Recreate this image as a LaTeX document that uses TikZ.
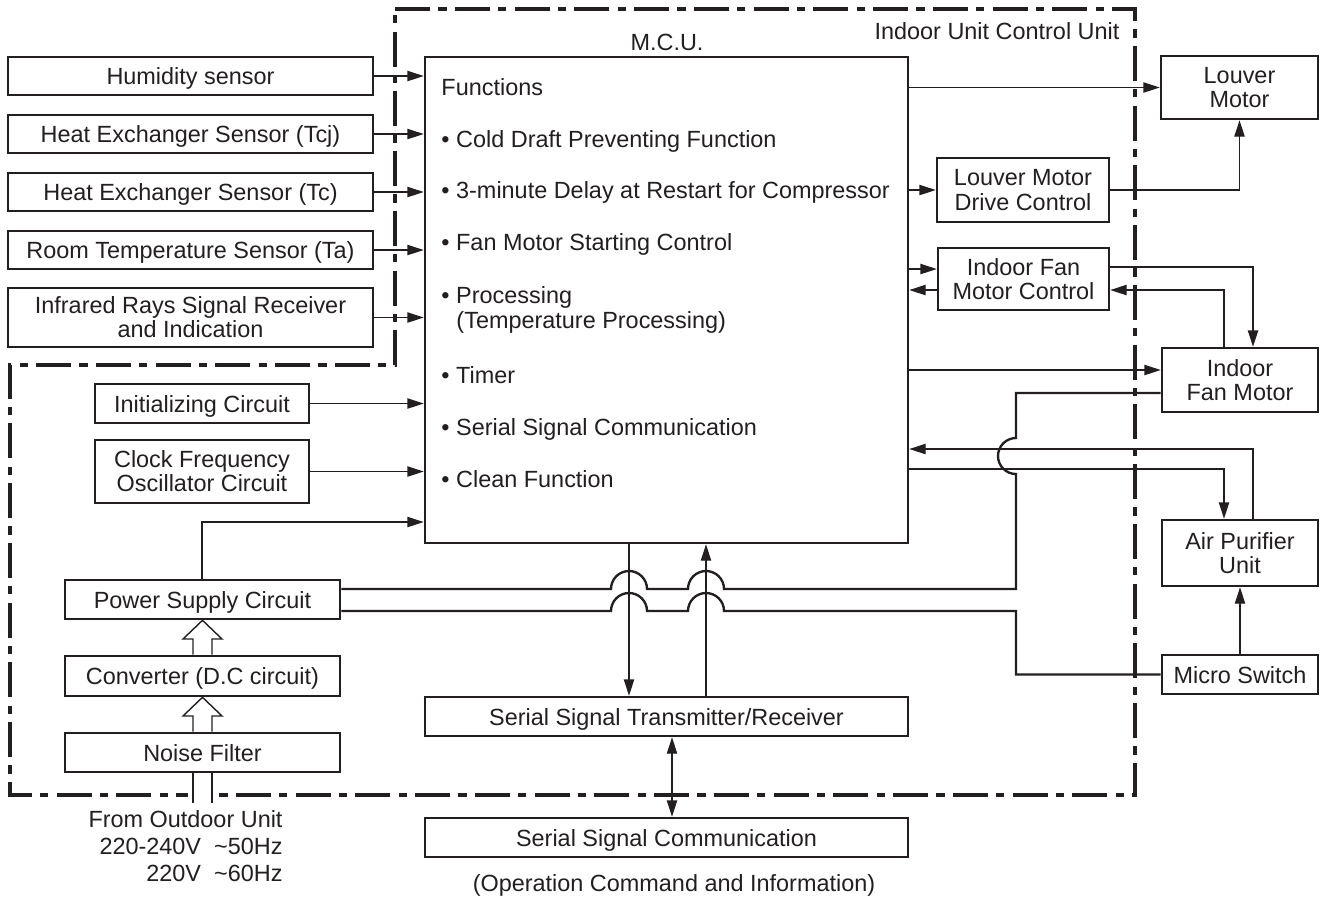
\documentclass[tikz,border=0pt]{standalone}
\usepackage{fontspec}
\setmainfont{Liberation Sans}
\usetikzlibrary{arrows.meta}
\definecolor{ink}{RGB}{35,31,32}
\begin{document}
\begin{tikzpicture}[x=0.015cm,y=-0.015cm,
  box/.style={draw=ink, line width=1.1pt, inner sep=0pt, align=center, text=ink, font=\fontsize{10pt}{10.3pt}\selectfont},
  one/.style={text height=7.4pt, text depth=0pt},
  sz/.style 2 args={minimum width=#1*0.015cm, minimum height=#2*0.015cm},
  arr/.style={draw=ink, line width=0.6pt, -{Triangle[length=7pt,width=4.4pt]}},
  arrb/.style={draw=ink, line width=0.6pt, {Triangle[length=7pt,width=4.4pt]}-{Triangle[length=7pt,width=4.4pt]}},
  pwr/.style={draw=ink, line width=1pt},
  bord/.style={draw=ink, line width=1.4pt, dash pattern=on 15pt off 3.5pt on 3.5pt off 3.5pt},
  lbl/.style={text=ink, inner sep=0pt, font=\fontsize{10pt}{11.5pt}\selectfont},
  hollow/.style={draw=ink, line width=0.6pt, fill=white}]
\useasboundingbox (0,0) rectangle (1325,897);
\fill[white] (0,0) rectangle (1325,897);

% boundary of indoor unit control unit
\draw[bord] (395,9) -- (1135,9) -- (1135,795) -- (10,795) -- (10,365) -- (395,365) -- cycle;
\fill[white] (188,789) rectangle (217,801);

% left input boxes
\node[box, one, sz={365}{38}] (hum) at (190.5,76) {Humidity sensor};
\node[box, one, sz={365}{38}] (tcj) at (190.5,134) {Heat Exchanger Sensor (Tcj)};
\node[box, one, sz={365}{38}] (tc)  at (190.5,192) {Heat Exchanger Sensor (Tc)};
\node[box, one, sz={365}{38}] (ta)  at (190.5,250) {Room Temperature Sensor (Ta)};
\node[box, sz={365}{59}] (ir)  at (190.5,317.5) {Infrared Rays Signal Receiver\\and Indication};

% MCU
\node[box, sz={483}{486}] (mcu) at (666.5,300) {};
\node[lbl] (mcutitle) at (667,42) {M.C.U.};
\node[lbl] (iuccu) at (997,31) {Indoor Unit Control Unit};
\node[lbl, anchor=base west] (f0) at (441,95) {Functions};
\node[lbl, anchor=base west] (f1) at (441,147) {• Cold Draft Preventing Function};
\node[lbl, anchor=base west] (f2) at (441,198) {• 3-minute Delay at Restart for Compressor};
\node[lbl, anchor=base west] (f3) at (441,250) {• Fan Motor Starting Control};
\node[lbl, anchor=base west] (f4) at (441,303) {• Processing};
\node[lbl, anchor=base west] (f4b) at (456,328) {(Temperature Processing)};
\node[lbl, anchor=base west] (f5) at (441,383) {• Timer};
\node[lbl, anchor=base west] (f6) at (441,435) {• Serial Signal Communication};
\node[lbl, anchor=base west] (f7) at (441,487) {• Clean Function};

% lower left boxes
\node[box, one, sz={214}{39}] (init) at (202,403.5) {Initializing Circuit};
\node[box, sz={214}{63}] (clk)  at (202,471.5) {Clock Frequency\\Oscillator Circuit};
\node[box, one, sz={275}{39}] (psc)  at (202.5,599.5) {Power Supply Circuit};
\node[box, one, sz={275}{40}] (conv) at (202.5,676) {Converter (D.C circuit)};
\node[box, one, sz={275}{39}] (nf)   at (202.5,752.5) {Noise Filter};
\node[lbl, align=right, anchor=north east] (outdoor) at (283,810) {From Outdoor Unit\\220-240V\ \ \textasciitilde50Hz\\220V\ \ \textasciitilde60Hz};

% serial boxes
\node[box, one, sz={483}{39}] (str) at (666.5,716.5) {Serial Signal Transmitter/Receiver};
\node[box, one, sz={483}{39}] (ssc) at (666.5,837.5) {Serial Signal Communication};
\node[lbl] (opcmd) at (674,885) {(Operation Command and Information)};

% right boxes
\node[box, sz={157}{63}] (lm)  at (1239.5,87.5) {Louver\\Motor};
\node[box, sz={172}{64}] (lmd) at (1023,190) {Louver Motor\\Drive Control};
\node[box, sz={171}{62}] (ifc) at (1023.5,279) {Indoor Fan\\Motor Control};
\node[box, sz={156}{64}] (ifm) at (1240,380) {Indoor\\Fan Motor};
\node[box, sz={156}{66}] (apu) at (1240,553) {Air Purifier\\Unit};
\node[box, one, sz={156}{39}] (ms)  at (1240,674.5) {Micro Switch};

% inputs to MCU
\draw[arr] (hum) -- (hum -| mcu.west);
\draw[arr] (tcj) -- (tcj -| mcu.west);
\draw[arr] (tc) -- (tc -| mcu.west);
\draw[arr] (ta) -- (ta -| mcu.west);
\draw[arr] (ir) -- (ir -| mcu.west);
\draw[arr] (init) -- (init -| mcu.west);
\draw[arr] (clk) -- (clk -| mcu.west);
\draw[arr] (psc.north -| 202,0) |- (mcu.west |- 0,522);

% hollow power arrows
\draw[hollow] (conv.north -| 193,0) -- (193,639) -- (183,639) -- (psc.south) -- (222,639) -- (212,639) -- (conv.north -| 212,0);
\draw[hollow] (nf.north -| 193,0) -- (193,716) -- (183,716) -- (conv.south) -- (222,716) -- (212,716) -- (nf.north -| 212,0);
\draw[ink, line width=0.6pt] (nf.south -| 193,0) -- (193,803);
\draw[ink, line width=0.6pt] (nf.south -| 212,0) -- (212,803);

% right side signals
\draw[arr] (mcu.east |- lm) -- (lm);
\draw[arr] (mcu.east |- lmd) -- (lmd);
\draw[arr] (lmd.east) -| (lm.south);
\draw[arr] (mcu.east |- 0,269) -- (ifc.west |- 0,269);
\draw[arr] (ifc.west |- 0,290) -- (mcu.east |- 0,290);
\draw[arr] (ifc.east |- 0,267) -| (ifm.north -| 1253,0);
\draw[arr] (ifm.north -| 1224,0) |- (ifc.east |- 0,290);
\draw[arr] (mcu.east |- 0,370) -- (ifm.west |- 0,370);
\draw[arr] (apu.north -| 1253,0) |- (mcu.east |- 0,449);
\draw[arr] (mcu.east |- 0,469) -| (apu.north -| 1224,0);
\draw[arr] (ms.north) -- (apu.south);

% serial signals
\draw[arr] (mcu.south -| 629,0) -- (str.north -| 629,0);
\draw[arr] (str.north -| 706,0) -- (mcu.south -| 706,0);
\draw[arrb] (str.south -| 672,0) -- (ssc.north -| 672,0);

% power lines with hops
\draw[pwr] (psc.east |- 0,589) -- (611,589) arc[start angle=180,end angle=0,radius=0.27cm]
  -- (688,589) arc[start angle=180,end angle=0,radius=0.27cm]
  -- (1016,589) -- (1016,474) arc[start angle=270,end angle=90,radius=0.27cm]
  |- (ifm.west |- 0,393);
\draw[pwr] (psc.east |- 0,611) -- (611,611) arc[start angle=180,end angle=0,radius=0.27cm]
  -- (688,611) arc[start angle=180,end angle=0,radius=0.27cm]
  -- (1016,611) |- (ms.west);
\end{tikzpicture}
\end{document}
